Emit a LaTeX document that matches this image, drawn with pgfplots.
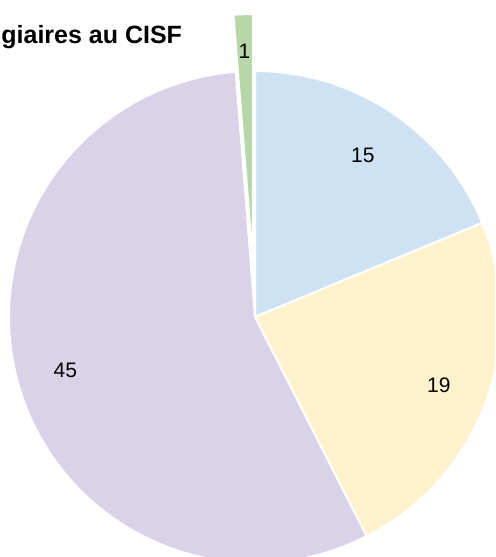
\documentclass[border=0pt]{standalone}
\usepackage{pgfplots}
\pgfplotsset{compat=1.18}
\usepackage{pgfplotstable}
\usepackage{fontspec}
\setmainfont{Liberation Sans}
\definecolor{cA}{HTML}{CFE2F3}
\definecolor{cB}{HTML}{FFF2CC}
\definecolor{cC}{HTML}{D9D2E9}
\definecolor{cD}{HTML}{B6D7A8}
\pgfplotstableread{
label value
15 15
19 19
45 45
1 1
}\piedata
\newcommand\pieslice[6]{%
  % #1 cx, #2 cy, #3 start angle, #4 end angle, #5 color, #6 radius (pt)
  \fill[#5, draw=white, line width=1pt, line join=round]
    (axis cs:#1,#2) -- ([shift={(#3:#6)}]axis cs:#1,#2)
    arc[start angle=#3, end angle=#4, radius=#6] -- cycle;}
\begin{document}
\begin{tikzpicture}
\pgfplotstablegetelem{0}{value}\of\piedata \pgfmathsetmacro\va{\pgfplotsretval}
\pgfplotstablegetelem{1}{value}\of\piedata \pgfmathsetmacro\vb{\pgfplotsretval}
\pgfplotstablegetelem{2}{value}\of\piedata \pgfmathsetmacro\vc{\pgfplotsretval}
\pgfplotstablegetelem{3}{value}\of\piedata \pgfmathsetmacro\vd{\pgfplotsretval}
\pgfmathsetmacro\tot{\va+\vb+\vc+\vd}
\pgfmathsetmacro\aA{90}
\pgfmathsetmacro\aB{\aA-360*\va/\tot}
\pgfmathsetmacro\aC{\aB-360*\vb/\tot}
\pgfmathsetmacro\aD{\aC-360*\vc/\tot}
\pgfmathsetmacro\aE{\aD-360*\vd/\tot}
% bisectors
\pgfmathsetmacro\mA{(\aA+\aB)/2}
\pgfmathsetmacro\mB{(\aB+\aC)/2}
\pgfmathsetmacro\mC{(\aC+\aD)/2}
\pgfmathsetmacro\mD{(\aD+\aE)/2}
% centre and exploded centre (pixel units)
\pgfmathsetmacro\cx{255}
\pgfmathsetmacro\cy{240}
\pgfmathsetmacro\gx{\cx+57*cos(\mD)}
\pgfmathsetmacro\gy{\cy+57*sin(\mD)}
\pgfmathsetmacro\lAx{\cx+194*cos(\mA)}\pgfmathsetmacro\lAy{\cy+194*sin(\mA)}
\pgfmathsetmacro\lBx{\cx+196*cos(\mB)}\pgfmathsetmacro\lBy{\cy+196*sin(\mB)}
\pgfmathsetmacro\lCx{\cx+197*cos(\mC)}\pgfmathsetmacro\lCy{\cy+197*sin(\mC)}
\pgfmathsetmacro\lDx{\gx+209*cos(\mD)}\pgfmathsetmacro\lDy{\gy+209*sin(\mD)}
\begin{axis}[name=ax, at={(0,0)}, anchor=south west, hide axis,
  x=0.5pt, y=0.5pt, xmin=0, xmax=495, ymin=0, ymax=557, clip=true]
\addplot[draw=none] coordinates {(0,0)};
\pieslice{\cx}{\cy}{\aA}{\aB}{cA}{123pt}
\pieslice{\cx}{\cy}{\aB}{\aC}{cB}{123pt}
\pieslice{\cx}{\cy}{\aC}{\aD}{cC}{123pt}
\pieslice{\gx}{\gy}{\aD}{\aE}{cD}{123pt}
\node[font=\fontsize{10.5}{12}\selectfont] at (axis cs:\lAx,\lAy) {15};
\node[font=\fontsize{10.5}{12}\selectfont] at (axis cs:\lBx,\lBy) {19};
\node[font=\fontsize{10.5}{12}\selectfont] at (axis cs:\lCx,\lCy) {45};
\node[font=\fontsize{10.5}{12}\selectfont] at (axis cs:\lDx,\lDy) {1};
\node[anchor=base west, inner sep=0pt, font=\bfseries\fontsize{12.5}{15}\selectfont] at (axis cs:1,513) {giaires au CISF};
\end{axis}
\pgfresetboundingbox
\useasboundingbox (ax.south west) rectangle (ax.north east);
\end{tikzpicture}
\end{document}
